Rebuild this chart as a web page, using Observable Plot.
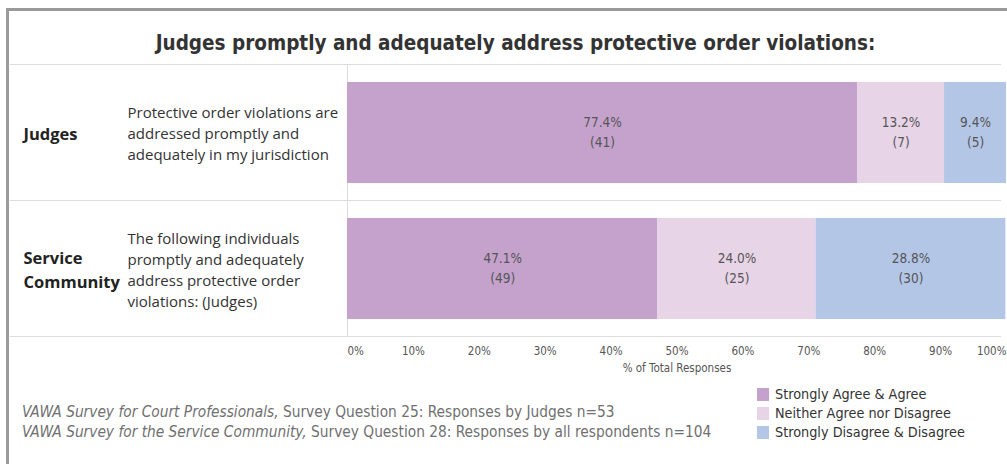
<!DOCTYPE html>
<html>
<head>
<meta charset="utf-8">
<script src="https://cdn.jsdelivr.net/npm/d3@7"></script>
<script src="https://cdn.jsdelivr.net/npm/@observablehq/plot@0.6"></script>
<style>
  html, body { margin: 0; padding: 0; background: #fff; }
  body { width: 1007px; height: 464px; position: relative; overflow: hidden; }
  #border { position: absolute; left: 6px; top: 8px; width: 1010px; height: 470px;
            border-left: 3px solid #9a9a9a; border-top: 3px solid #9a9a9a; box-sizing: border-box; }
  #title { position: absolute; left: 0; top: 29px; width: 1031px; text-align: center;
           font-family: "Liberation Sans Narrow", "DejaVu Sans Condensed", sans-serif;
           font-weight: bold; font-size: 20.5px; color: #333; line-height: 28px; }
  #chart { position: absolute; left: 0; top: 64px; }
  #caption { position: absolute; left: 22px; top: 402px;
             font-family: "Liberation Sans Narrow", "DejaVu Sans Condensed", sans-serif;
             font-size: 15.3px; color: #707070; line-height: 20px; }
  #caption i { font-style: italic; }
  #legend { position: absolute; left: 757px; top: 385px;
            font-family: "Liberation Sans Narrow", "DejaVu Sans Condensed", sans-serif;
            font-size: 14.3px; color: #333; line-height: 19px; }
  #legend .item { display: flex; align-items: center; height: 19px; }
  #legend .sw { width: 12px; height: 13px; margin-right: 6px; }
</style>
</head>
<body>
<div id="border"></div>
<div id="title"></div>
<div id="chart"></div>
<div id="caption"></div>
<div id="legend"></div>
<script>
// ---- data ----
const titleText = "Judges promptly and adequately address protective order violations:";
const groups = ["Judges", "Service Community"];
const groupLabels = ["Judges", "Service\nCommunity"];
const questions = [
  "Protective order violations are\naddressed promptly and\nadequately in my jurisdiction",
  "The following individuals\npromptly and adequately\naddress protective order\nviolations: (Judges)"
];
const responses = ["Strongly Agree & Agree", "Neither Agree nor Disagree", "Strongly Disagree & Disagree"];
const judgesPct = [77.4, 13.2, 9.4];
const judgesCount = [41, 7, 5];
const servicePct = [47.1, 24.0, 28.8];
const serviceCount = [49, 25, 30];
const colors = ["#c4a2cc", "#e7d4e7", "#b4c6e6"];
const xTicks = [10, 20, 30, 40, 50, 60, 70, 80, 90];
const xLabel = "% of Total Responses";
const captionItalic = ["VAWA Survey for Court Professionals,", "VAWA Survey for the Service Community,"];
const captionRest = ["Survey Question 25: Responses by Judges n=53", "Survey Question 28: Responses by all respondents n=104"];

// ---- build table ----
const pcts = [judgesPct, servicePct];
const counts = [judgesCount, serviceCount];
const data = [];
groups.forEach((g, gi) => responses.forEach((r, ri) => data.push({
  group: g, response: r, pct: pcts[gi][ri], count: counts[gi][ri]
})));
const rowInfo = groups.map((g, i) => ({group: g, label: groupLabels[i], question: questions[i]}));

document.getElementById("title").textContent = titleText;

const tableauFont = '"Liberation Sans Narrow", "DejaVu Sans Condensed", sans-serif';
const lineColor = "#dcdcdc";

const chart = Plot.plot({
  width: 1007,
  height: 312,
  marginLeft: 10,
  marginRight: 7,
  marginTop: 0,
  marginBottom: 40,
  style: {fontFamily: tableauFont, background: "transparent", overflow: "visible"},
  x: {domain: [0, 100], range: [347, 1006], axis: null},
  fy: {domain: groups, padding: 0, axis: null},
  color: {domain: responses, range: colors},
  marks: [
    Plot.frame({anchor: "top", stroke: lineColor}),
    Plot.frame({anchor: "bottom", stroke: lineColor}),
    Plot.ruleX([0], {stroke: lineColor}),
    Plot.barX(data, Plot.stackX({x: "pct", fy: "group", fill: "response", insetTop: 18, insetBottom: 17})),
    Plot.text(data, Plot.stackX({
      x: "pct", fy: "group",
      text: d => `${d.pct.toFixed(1)}%\n(${d.count})`,
      fill: "#555", fontSize: 13.5, lineHeight: 1.5, dy: -2
    })),
    Plot.text(rowInfo, {
      fy: "group", text: "label", frameAnchor: "left", textAnchor: "start", dx: 13,
      fontWeight: "bold", fontSize: 16.5, fill: "#222", lineHeight: 1.45,
      fontFamily: '"Open Sans", "Noto Sans", sans-serif'
    }),
    Plot.text(rowInfo, {
      fy: "group", text: "question", frameAnchor: "left", textAnchor: "start", dx: 117,
      fontSize: 15, fill: "#333", lineHeight: 1.4,
      fontFamily: '"Open Sans", "Noto Sans", sans-serif'
    }),
    Plot.axisX(xTicks, {tickSize: 0, tickPadding: 10, tickFormat: d => d + "%", label: null, fontSize: 11.5, fill: "#555"}),
    Plot.axisX([0], {tickSize: 0, tickPadding: 10, tickFormat: d => d + "%", label: null, fontSize: 11.5, fill: "#555", textAnchor: "start"}),
    Plot.axisX([100], {tickSize: 0, tickPadding: 10, tickFormat: d => d + "%", label: null, fontSize: 11.5, fill: "#555", textAnchor: "end"}),
    Plot.text([{group: groups[groups.length - 1], t: xLabel}], {
      fy: "group", x: () => 50, text: "t", frameAnchor: "bottom", dy: 35, fontSize: 11.5, fill: "#555"
    })
  ]
});
document.getElementById("chart").appendChild(chart);

// caption
const cap = document.getElementById("caption");
captionItalic.forEach((it, i) => {
  const line = document.createElement("div");
  const em = document.createElement("i");
  em.textContent = it;
  line.appendChild(em);
  line.appendChild(document.createTextNode(" " + captionRest[i]));
  cap.appendChild(line);
});

// legend
const leg = document.getElementById("legend");
responses.forEach((r, i) => {
  const item = document.createElement("div");
  item.className = "item";
  const sw = document.createElement("div");
  sw.className = "sw";
  sw.style.background = colors[i];
  const t = document.createElement("span");
  t.textContent = r;
  item.appendChild(sw);
  item.appendChild(t);
  leg.appendChild(item);
});
</script>
</body>
</html>
